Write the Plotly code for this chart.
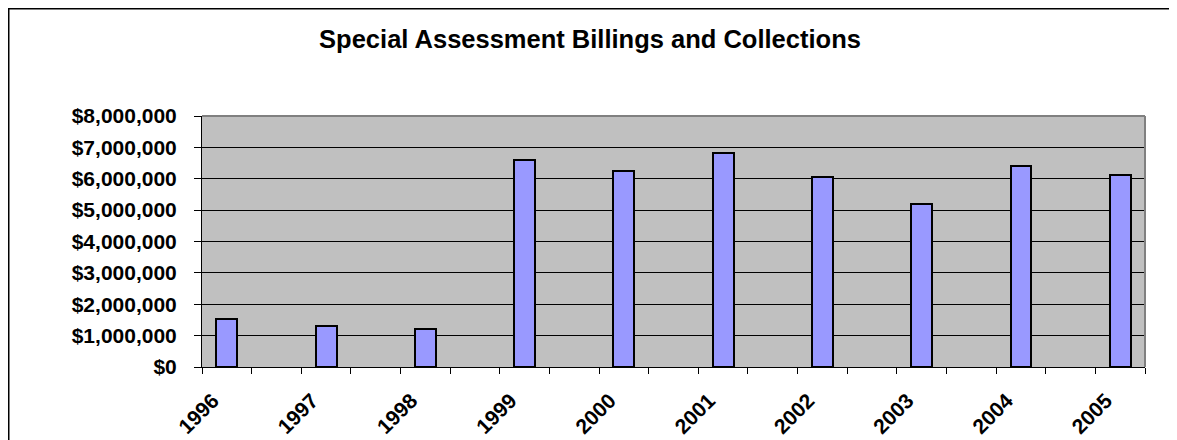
import plotly.graph_objects as go

years = ["1996", "1997", "1998", "1999", "2000", "2001", "2002", "2003", "2004", "2005"]
amounts = [1540000, 1320000, 1200000, 6600000, 6260000, 6820000, 6040000, 5190000, 6420000, 6110000]
y_ticks = [0, 1000000, 2000000, 3000000, 4000000, 5000000, 6000000, 7000000, 8000000]

# empty slots between the years (the chart leaves a gap category after each year)
slots = []
for i, yr in enumerate(years):
    slots.append(yr)
    if i < len(years) - 1:
        slots.append(" " * (i + 1))

FONT = "Liberation Sans, Arial, sans-serif"

# plot area in figure pixels (the page adds an 8px body margin)
W, H = 1177, 440
L, T = 194, 108
PW, PH = 943, 251
R = W - L - PW
B = H - T - PH

fig = go.Figure()
fig.add_trace(go.Bar(
    x=years,
    y=amounts,
    width=0.42,
    marker=dict(color="#9999FF", line=dict(color="black", width=2)),
    showlegend=False,
))

fig.update_layout(
    width=W,
    height=H,
    margin=dict(l=L, r=R, t=T, b=B, autoexpand=False),
    paper_bgcolor="white",
    plot_bgcolor="#C0C0C0",
    title=dict(
        text="Special Assessment Billings and Collections",
        font=dict(family=FONT, size=25.5, color="black", weight="bold"),
        x=582 / W, xref="container", xanchor="center",
        y=1 - 31 / H, yref="container", yanchor="middle",
    ),
    font=dict(family=FONT, color="black"),
    bargap=0,
)

fig.update_xaxes(
    type="category",
    categoryorder="array",
    categoryarray=slots,
    range=[-0.5, len(slots) - 0.5],
    automargin=False,
    tickson="boundaries",
    ticks="outside",
    ticklen=6,
    tickcolor="black",
    tickangle=-45,
    ticklabelshift=-14,
    ticklabelstandoff=12,
    tickfont=dict(family=FONT, size=21, weight="bold"),
    showline=True,
    linecolor="black",
    linewidth=1,
    showgrid=False,
)

fig.update_yaxes(
    range=[0, 8000000],
    tickvals=y_ticks,
    tickformat="$,.0f",
    automargin=False,
    ticks="outside",
    ticklen=7,
    tickcolor="black",
    ticklabelstandoff=13,
    tickfont=dict(family=FONT, size=21, weight="bold"),
    showline=True,
    linecolor="black",
    linewidth=1,
    showgrid=True,
    gridcolor="black",
    gridwidth=1,
    zeroline=False,
)

# gray plot-area edges on top and right
fig.add_shape(type="line", xref="paper", yref="paper", x0=0, x1=1, y0=1, y1=1,
              line=dict(color="#808080", width=2))
fig.add_shape(type="line", xref="paper", yref="paper", x0=1, x1=1, y0=0, y1=1,
              line=dict(color="#808080", width=2))

# outer chart border (cropped on the right and bottom)
fig.add_shape(type="rect", xref="paper", yref="paper",
              x0=(0.75 - L) / PW, x1=1.5, y0=-1.0, y1=(H - B - 0.75) / PH,
              line=dict(color="black", width=1.5))

fig.write_html("out.html")
